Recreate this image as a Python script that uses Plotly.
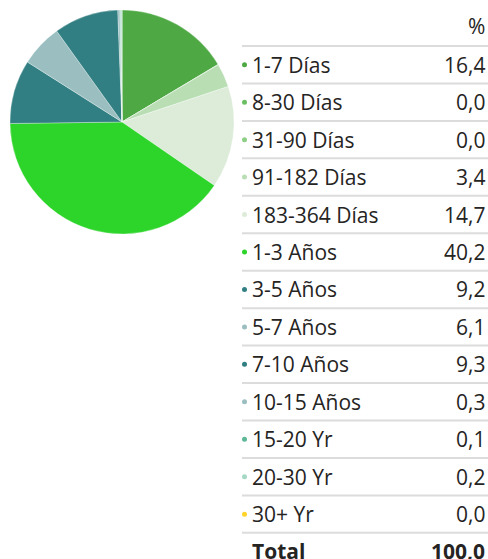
import plotly.graph_objects as go

categories = ["1-7 Días", "8-30 Días", "31-90 Días", "91-182 Días", "183-364 Días",
              "1-3 Años", "3-5 Años", "5-7 Años", "7-10 Años", "10-15 Años",
              "15-20 Yr", "20-30 Yr", "30+ Yr"]
values = [16.4, 0.03, 0.03, 3.4, 14.7, 40.2, 9.2, 6.1, 9.3, 0.3, 0.1, 0.2, 0.0]
colors = ["#4EA944", "#6ABF62", "#8CCF85", "#B9DEB4", "#DCECD9", "#2DD42A",
          "#317F82", "#9BBFC1", "#317F82", "#9BBFC1", "#5DB897", "#A6D9C5", "#FFD42A"]
header_label = "%"
total_label = "Total"

W, H = 488, 559
FONT = "Open Sans"
FS = 21
TXT = "#252423"

def fmt(v):
    return f"{v:.1f}".replace(".", ",")

fig = go.Figure()

# Pie
px0, px1, py0, py1 = 10, 234, 10, 234
fig.add_trace(go.Pie(
    labels=categories, values=values, sort=False, direction="clockwise",
    rotation=0, marker=dict(colors=colors, line=dict(color="rgba(255,255,255,0.6)", width=0.5)),
    textinfo="none", hoverinfo="label+percent", showlegend=False,
    domain=dict(x=[px0 / W, px1 / W], y=[1 - py1 / H, 1 - py0 / H]),
))

# Table geometry
top = 46.0
rowh = 37.45
xl, xr = 242, 488
xdot, xtext, xval = 244.5, 250, 487

row_centers = [top + rowh * (i + 0.5) for i in range(len(categories) + 1)]

fig.add_trace(go.Scatter(
    x=[xdot] * len(categories), y=row_centers[:len(categories)],
    mode="markers", marker=dict(size=5, color=colors, line=dict(width=0)),
    hoverinfo="skip", showlegend=False, xaxis="x", yaxis="y",
))

shapes = []
for k in range(len(categories) + 1):
    yk = top + rowh * k
    shapes.append(dict(type="line", xref="x", yref="y", x0=xl, x1=xr, y0=yk, y1=yk,
                       line=dict(color="#DCDCDC", width=2)))

ann = []
ann.append(dict(x=xval, y=26, xref="x", yref="y", text=header_label, showarrow=False,
                xanchor="right", yanchor="middle", font=dict(family=FONT, size=FS, color=TXT)))
for i, (c, v) in enumerate(zip(categories, values)):
    yc = row_centers[i]
    ann.append(dict(x=xtext, y=yc, xref="x", yref="y", text=c, showarrow=False,
                    xanchor="left", yanchor="middle", font=dict(family=FONT, size=FS, color=TXT)))
    ann.append(dict(x=xval, y=yc, xref="x", yref="y", text=fmt(v), showarrow=False,
                    xanchor="right", yanchor="middle", font=dict(family=FONT, size=FS, color=TXT)))
total = round(sum(values), 0)
yt = row_centers[-1] - 1
ann.append(dict(x=xtext, y=yt, xref="x", yref="y", text=f"<b>{total_label}</b>", showarrow=False,
                xanchor="left", yanchor="middle", font=dict(family=FONT, size=FS, color=TXT)))
ann.append(dict(x=xval, y=yt, xref="x", yref="y", text=f"<b>{fmt(total)}</b>", showarrow=False,
                xanchor="right", yanchor="middle", font=dict(family=FONT, size=FS, color=TXT)))

fig.update_layout(
    width=W, height=H, margin=dict(l=0, r=0, t=0, b=0),
    paper_bgcolor="white", plot_bgcolor="rgba(0,0,0,0)",
    xaxis=dict(range=[0, W], visible=False, domain=[0, 1], fixedrange=True),
    yaxis=dict(range=[H, 0], visible=False, domain=[0, 1], fixedrange=True),
    shapes=shapes, annotations=ann,
)

fig.write_html("out.html", config={"displayModeBar": False},
               post_script="document.body.style.margin='0px';document.body.style.overflow='hidden';")
